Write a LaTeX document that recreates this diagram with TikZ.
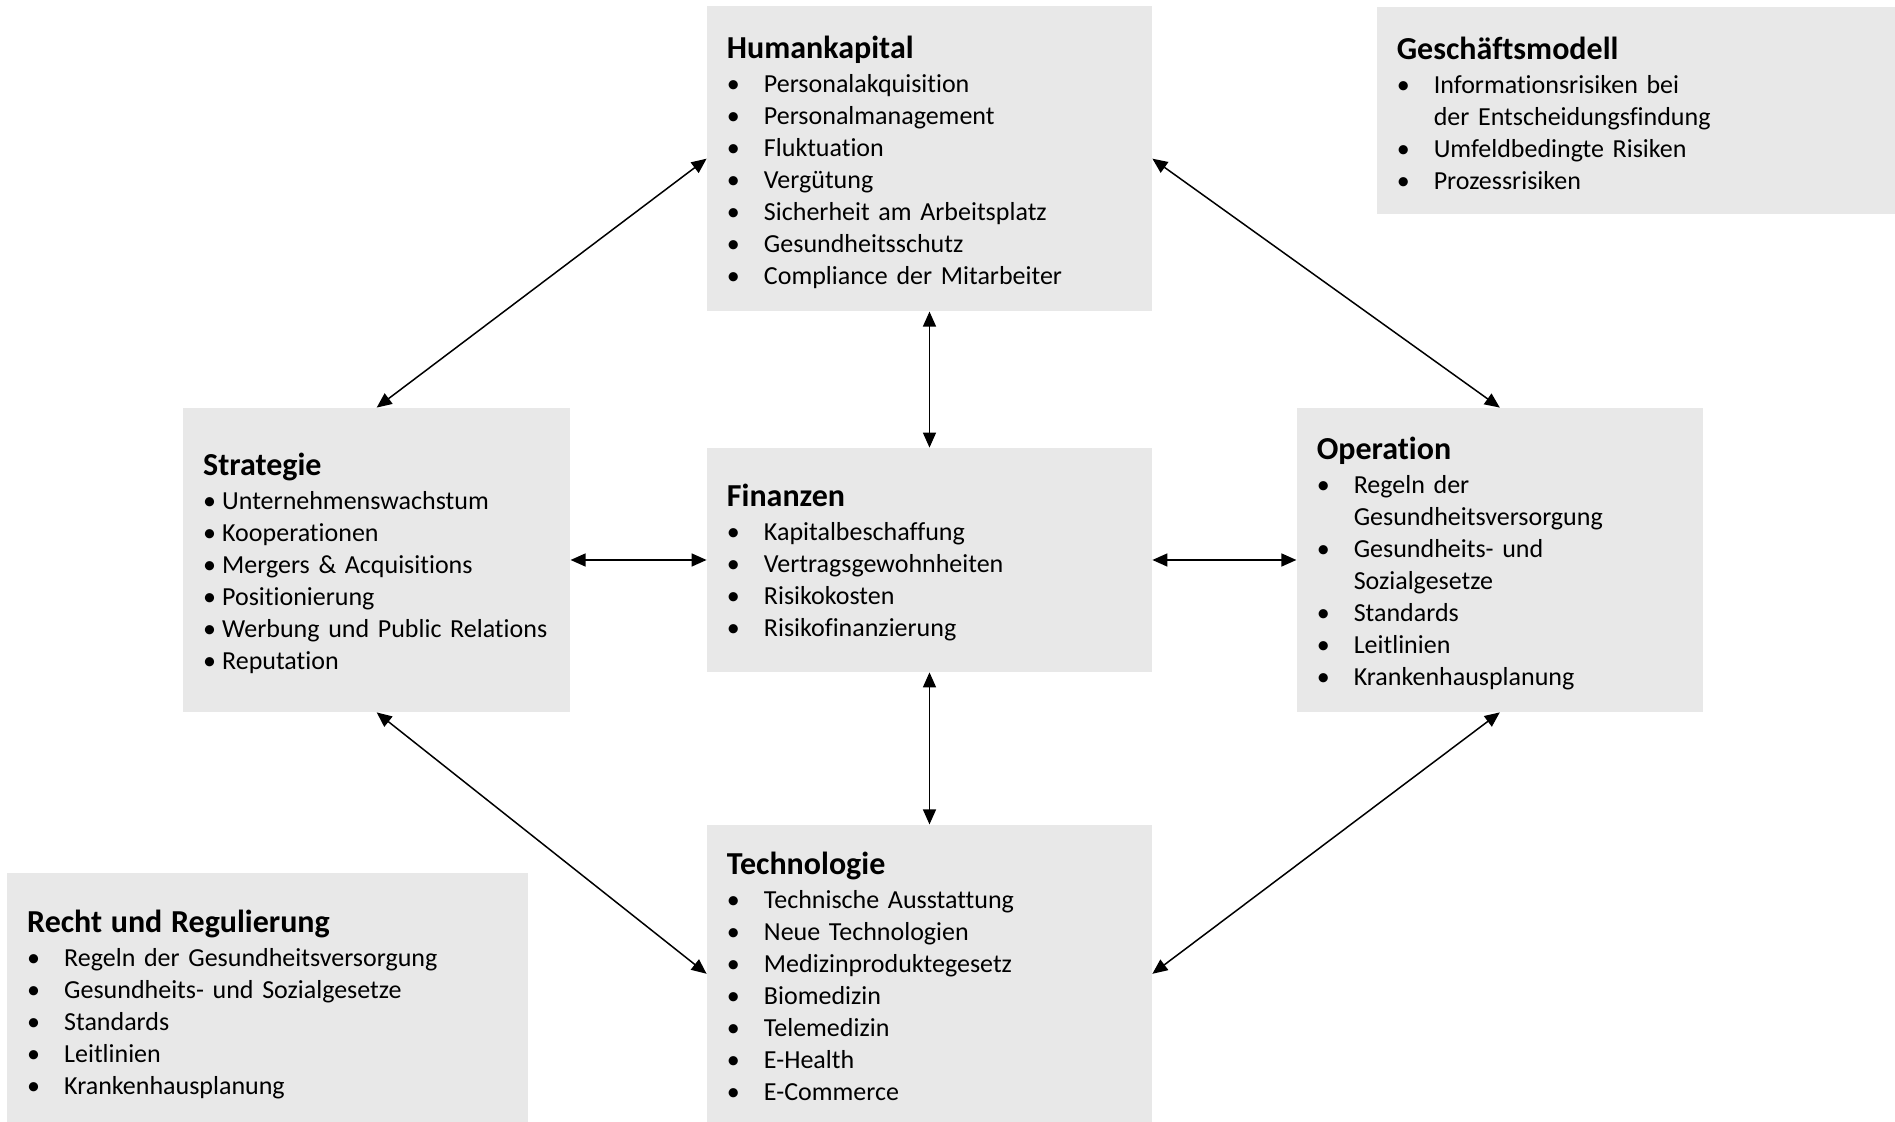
\documentclass[tikz,border=0pt]{standalone}
\usepackage{fontspec}
\setmainfont{Carlito}[Ligatures=NoCommon]
\usepackage{xcolor}
\usetikzlibrary{positioning,arrows.meta}
\definecolor{boxgray}{RGB}{232,232,232}
\tikzstyle{block} = [rectangle, fill=boxgray, inner xsep=10pt, inner ysep=0pt,
    align=left, font=\fontsize{13pt}{16pt}\selectfont]
\tikzstyle{line} = [draw, line width=0.75pt,
    {Triangle[length=7.5pt,width=6.5pt]}-{Triangle[length=7.5pt,width=6.5pt]}]
\newcommand{\hd}[2][14pt]{\rule{0pt}{#1}{\fontsize{16pt}{16pt}\selectfont\textbf{#2}}\\[1pt]}
\newcommand{\itm}[1]{\makebox[18.5pt][l]{•}#1\rule[-3pt]{0pt}{3pt}}
\newcommand{\cont}[1]{\hspace*{18.5pt}#1\rule[-3pt]{0pt}{3pt}}
\newcommand{\sitm}[1]{\makebox[9.5pt][l]{•}#1\rule[-3pt]{0pt}{3pt}}

\begin{document}
\begin{tikzpicture}
		\useasboundingbox (-464.75pt,-281pt) rectangle (482.75pt,280pt);
		\node [block, minimum width=222.5pt, text width=202.5pt, minimum height=112pt] (fin)
			{\hd[14.8pt]{Finanzen}\itm{Kapitalbeschaffung}\\\itm{Vertragsgewohnheiten}\\\itm{Risikokosten}\\\itm{Risikofinanzierung}};
		\node [block, minimum width=222.5pt, text width=202.5pt, minimum height=152.5pt, above=68pt of fin] (hum)
			{\hd[15.7pt]{Humankapital}\itm{Personalakquisition}\\\itm{Personalmanagement}\\\itm{Fluktuation}\\\itm{Vergütung}\\
			\itm{Sicherheit am Arbeitsplatz}\\\itm{Gesundheitsschutz}\\\itm{Compliance der Mitarbeiter}};
		\node [block, minimum width=222.5pt, text width=202.5pt, minimum height=149pt, below=76pt of fin] (tech)
			{\hd[16.5pt]{Technologie}\itm{Technische Ausstattung}\\\itm{Neue Technologien}\\\itm{Medizinproduktegesetz}\\
			\itm{Biomedizin}\\\itm{Telemedizin}\\\itm{E-Health}\\\itm{E-Commerce}};
		\node [block, minimum width=193.5pt, text width=173.5pt, minimum height=152pt, left=68pt of fin] (strat)
			{\hd[15.4pt]{Strategie}\sitm{Unternehmenswachstum}\\\sitm{Kooperationen}\\\sitm{Mergers \& Acquisitions}\\
			\sitm{Positionierung}\\\sitm{Werbung und Public Relations}\\\sitm{Reputation}};
		\node [block, minimum width=203pt, text width=183pt, minimum height=152pt, right=72pt of fin] (oper)
			{\hd[15.5pt]{Operation}\itm{Regeln der}\\\cont{Gesundheitsversorgung}\\\itm{Gesundheits- und}\\\cont{Sozialgesetze}\\
			\itm{Standards}\\\itm{Leitlinien}\\\itm{Krankenhausplanung}};
		\node [block, minimum width=259.5pt, text width=239.5pt, minimum height=103.5pt, anchor=north west]
			(gesch) at ([xshift=112pt,yshift=-0.5pt]hum.north east)
			{\hd[16.5pt]{Geschäftsmodell}\itm{Informationsrisiken bei}\\\cont{der Entscheidungsfindung}\\
			\itm{Umfeldbedingte Risiken}\\\itm{Prozessrisiken}};
		\node [block, minimum width=260.5pt, text width=240.5pt, minimum height=125pt, anchor=north east]
			(recht) at ([xshift=-89pt,yshift=-24pt]tech.north west)
			{\hd[18.5pt]{Recht und Regulierung}\itm{Regeln der Gesundheitsversorgung}\\\itm{Gesundheits- und Sozialgesetze}\\
			\itm{Standards}\\\itm{Leitlinien}\\\itm{Krankenhausplanung}};

		\path [line] (strat.east) -- (fin.west);
		\path [line] (fin.east) -- (oper.west);
		\path [line] (hum.south) -- (fin.north);
		\path [line] (fin.south) -- (tech.north);
		\path [line] (strat.north) -- (hum.west);
		\path [line] (hum.east) -- (oper.north);
		\path [line] (strat.south) -- (tech.west);
		\path [line] (oper.south) -- (tech.east);
	\end{tikzpicture}
\end{document}
